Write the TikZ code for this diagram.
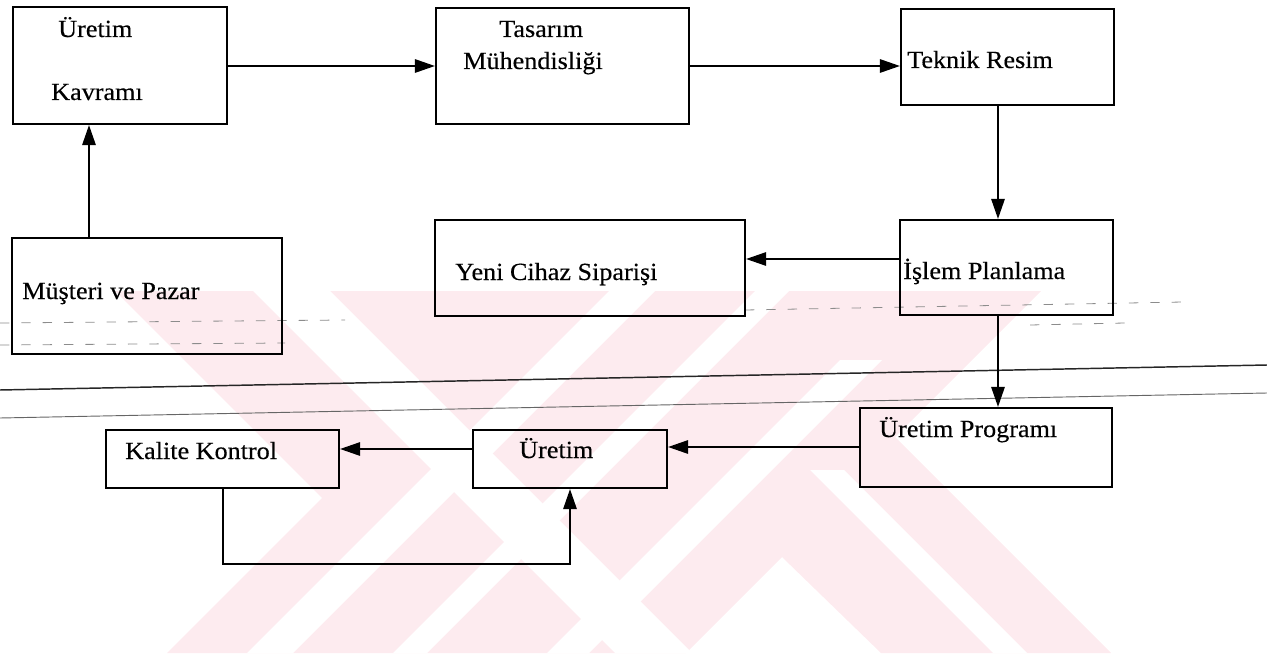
\documentclass[tikz,border=0pt]{standalone}
\usepackage{fontspec}
\setmainfont{Liberation Serif}[FakeStretch=1.06,FakeBold=0.35]
\usetikzlibrary{arrows.meta,fit,calc}
\definecolor{wm}{RGB}{253,235,239}
\begin{document}
\begin{tikzpicture}[x=0.75pt,y=-0.75pt,
  box/.style={draw=black,line width=1.6pt,inner sep=0pt,rectangle},
  lbl/.style={anchor=base west,inner sep=0pt,font=\fontsize{18.5}{20}\selectfont},
  arr/.style={draw=black,line width=1.4pt,-{Triangle[length=15pt,width=10pt]}},
  scan/.style={draw=black!85,line width=1.1pt},
  scanthin/.style={draw=black!60,line width=0.7pt},
  dashy/.style={draw=black!45,line width=0.6pt,dash pattern=on 7pt off 9pt}]
\useasboundingbox (0,0) rectangle (1267,656);
% watermark
\fill[wm] (115,291) -- (1041,291) -- (895,437) -- (1111,653) -- (881,653) -- (782,557) -- (686,653) -- (167,653) -- (322,498) -- cycle;
\fill[white] (253,291) -- (330,291) -- (692,653) -- (615,653) -- cycle;
\fill[white] (609,291) -- (655,291) -- (293,653) -- (247,653) -- cycle;
\fill[white] (755,291) -- (789,291) -- (427,653) -- (393,653) -- cycle;
\fill[white] (840,360) -- (882,360) -- (589,653) -- (547,653) -- cycle;
\fill[white] (810,470) -- (844,470) -- (1027,653) -- (993,653) -- cycle;
% scan artefacts
\draw[scan] (0,390) -- (1267,365);
\draw[scanthin] (0,418) -- (1267,393);
\draw[dashy] (0,323) -- (345,320);
\draw[dashy] (0,345) -- (285,343);
\draw[dashy] (745,310) -- (1183,302);
\draw[dashy] (1030,325) -- (1125,323);
% boxes
\node[box, fit={(13,7) (227,124)}] (kavram) {};
\node[box, fit={(436,8) (689,124)}] (tasarim) {};
\node[box, fit={(901,9) (1114,105)}] (teknik) {};
\node[box, fit={(900,220) (1113,315)}] (islem) {};
\node[box, fit={(435,220) (745,316)}] (yeni) {};
\node[box, fit={(12,238) (282,354)}] (musteri) {};
\node[box, fit={(106,430) (339,488)}] (kalite) {};
\node[box, fit={(473,430) (667,488)}] (uretim) {};
\node[box, fit={(860,408) (1112,487)}] (program) {};
% labels
\node[lbl] (t1) at (58,37) {Üretim};
\node[lbl] (t2) at (51,100) {Kavramı};
\node[lbl] (t3) at (499,37) {Tasarım};
\node[lbl] (t4) at (463,69) {Mühendisliği};
\node[lbl] (t5) at (907,68) {Teknik Resim};
\node[lbl] (t6) at (903,279) {İşlem Planlama};
\node[lbl] (t7) at (455,280) {Yeni Cihaz Siparişi};
\node[lbl] (t8) at (22,299) {Müşteri ve Pazar};
\node[lbl] (t9) at (125,459) {Kalite Kontrol};
\node[lbl] (t10) at (519,458) {Üretim};
\node[lbl] (t11) at (879,437) {Üretim Programı};
% connector guides
\coordinate (xa) at (89,0);
\coordinate (xb) at (998,0);
\coordinate (xc) at (223,0);
\coordinate (ya) at (0,66);
\coordinate (yb) at (0,259);
\coordinate (yc) at (0,447);
\coordinate (yd) at (0,449);
\coordinate (lp) at (570,564);
% connectors
\draw[arr] (kavram.east |- ya) -- (tasarim.west |- ya);
\draw[arr] (tasarim.east |- ya) -- (teknik.west |- ya);
\draw[arr] (musteri.north -| xa) -- (kavram.south -| xa);
\draw[arr] (teknik.south -| xb) -- (islem.north -| xb);
\draw[arr] (islem.west |- yb) -- (yeni.east |- yb);
\draw[arr] (islem.south -| xb) -- (program.north -| xb);
\draw[arr] (program.west |- yc) -- (uretim.east |- yc);
\draw[arr] (uretim.west |- yd) -- (kalite.east |- yd);
\draw[arr] (kalite.south -| xc) |- (lp) -- (uretim.south -| lp);
\end{tikzpicture}
\end{document}
